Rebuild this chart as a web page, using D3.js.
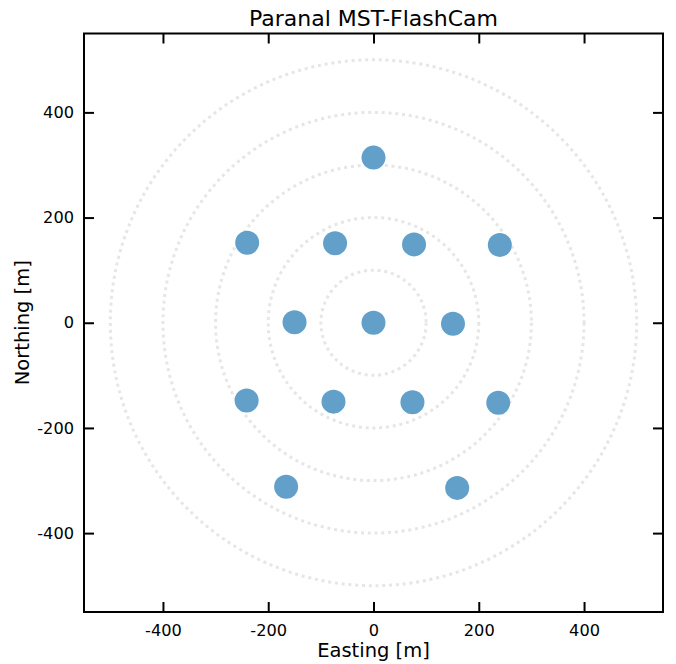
<!DOCTYPE html>
<html>
<head>
<meta charset="utf-8">
<script src="https://cdn.jsdelivr.net/npm/d3@7"></script>
<style>
  body { margin: 0; background: #fff; }
  svg text { font-family: "DejaVu Sans", sans-serif; fill: #000; }
</style>
</head>
<body>
<svg id="chart" width="676" height="664"></svg>
<script>
'use strict';

const title = 'Paranal MST-FlashCam';
const xLabel = 'Easting [m]';
const yLabel = 'Northing [m]';

// telescope positions (easting, northing) in metres
const eastings = [0, -240, -73, 77, 240, -150, 0, 151, -241, -76, 74, 237, -166, 159];
const northings = [314, 152, 151, 149, 148, 1, 0, -2, -148, -150, -151, -152, -312, -314];

const ringRadii = [100, 200, 300, 400, 500];
const tickValues = [-400, -200, 0, 200, 400];
const axisDomain = [-550, 550];

(function () {
  const svg = d3.select('#chart');
  const plotLeft = 84, plotRight = 663, plotTop = 33.5, plotBottom = 612;

  const x = d3.scaleLinear().domain(axisDomain).range([plotLeft, plotRight]);
  const y = d3.scaleLinear().domain(axisDomain).range([plotBottom, plotTop]);

  // plain hyphen minus, as in the reference
  const fmt = (d) => String(d);

  // dotted reference rings
  svg.append('g')
    .selectAll('ellipse')
    .data(ringRadii)
    .join('ellipse')
    .attr('cx', x(0))
    .attr('cy', y(0))
    .attr('rx', (r) => x(r) - x(0))
    .attr('ry', (r) => y(0) - y(r))
    .attr('fill', 'none')
    .attr('stroke', '#e6e6e6')
    .attr('stroke-width', 3)
    .attr('stroke-dasharray', '3 3.8');

  // telescopes
  const points = eastings.map((e, i) => [e, northings[i]]);
  svg.append('g')
    .selectAll('circle')
    .data(points)
    .join('circle')
    .attr('cx', (d) => x(d[0]))
    .attr('cy', (d) => y(d[1]))
    .attr('r', 12)
    .attr('fill', '#62a0ca');

  // axes with inward ticks on all sides
  function styleAxis(g) {
    g.select('.domain').remove();
    g.selectAll('.tick line').attr('stroke', '#000').attr('stroke-width', 2);
    g.selectAll('.tick text').attr('font-size', 16.2).attr('fill', '#000');
  }

  svg.append('g')
    .attr('transform', `translate(0,${plotBottom})`)
    .call(d3.axisBottom(x).tickValues(tickValues).tickSizeInner(-10).tickSizeOuter(0).tickPadding(10).tickFormat(fmt))
    .call(styleAxis)
    .call((g) => g.selectAll('.tick text').attr('dy', '0.85em'));

  svg.append('g')
    .attr('transform', `translate(0,${plotTop})`)
    .call(d3.axisTop(x).tickValues(tickValues).tickSizeInner(-10).tickSizeOuter(0).tickFormat(''))
    .call(styleAxis);

  svg.append('g')
    .attr('transform', `translate(${plotLeft},0)`)
    .call(d3.axisLeft(y).tickValues(tickValues).tickSizeInner(-10).tickSizeOuter(0).tickPadding(10).tickFormat(fmt))
    .call(styleAxis);

  svg.append('g')
    .attr('transform', `translate(${plotRight},0)`)
    .call(d3.axisRight(y).tickValues(tickValues).tickSizeInner(-10).tickSizeOuter(0).tickFormat(''))
    .call(styleAxis);

  // frame
  svg.append('rect')
    .attr('x', plotLeft)
    .attr('y', plotTop)
    .attr('width', plotRight - plotLeft)
    .attr('height', plotBottom - plotTop)
    .attr('fill', 'none')
    .attr('stroke', '#000')
    .attr('stroke-width', 2);

  svg.append('text')
    .attr('x', (plotLeft + plotRight) / 2)
    .attr('y', 26)
    .attr('text-anchor', 'middle')
    .attr('font-size', 22)
    .text(title);

  svg.append('text')
    .attr('x', (plotLeft + plotRight) / 2)
    .attr('y', 657)
    .attr('text-anchor', 'middle')
    .attr('font-size', 19.5)
    .text(xLabel);

  svg.append('text')
    .attr('transform', `translate(29,${(plotTop + plotBottom) / 2}) rotate(-90)`)
    .attr('text-anchor', 'middle')
    .attr('font-size', 19.5)
    .text(yLabel);
})();
</script>
</body>
</html>
